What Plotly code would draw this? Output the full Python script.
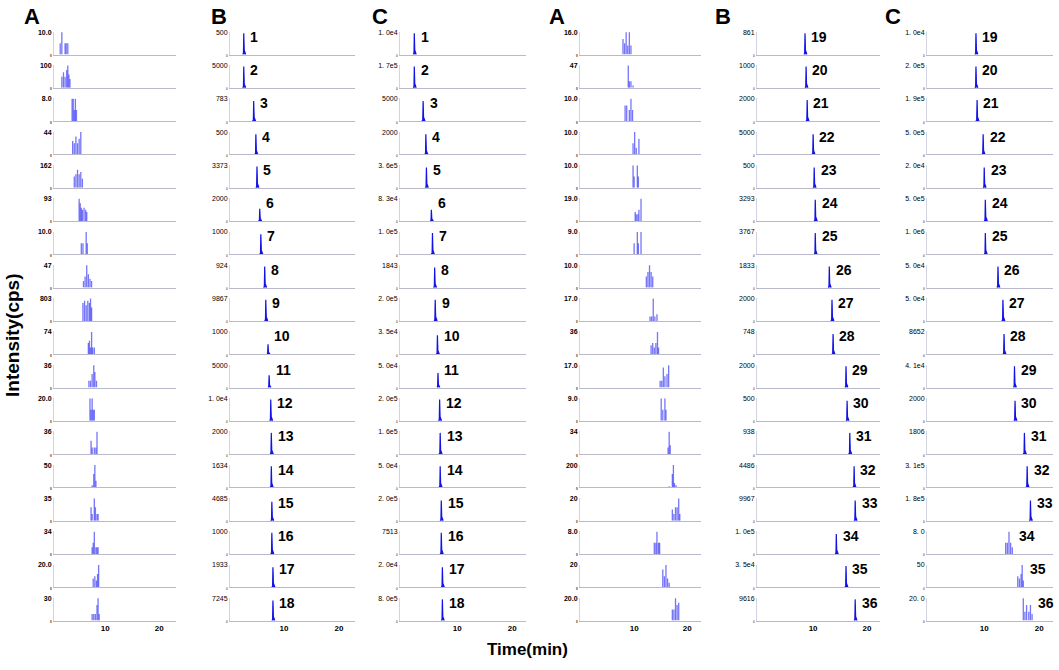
import plotly.graph_objects as go

W, H = 1059, 670

# ============ 数据 ============
# 每个小图左上角的强度标签 (A=空白, B=标准品, C=样品)
blank1_labels = ["10.0", "100", "8.0", "44", "162", "93", "10.0", "47", "803",
                 "74", "36", "20.0", "36", "50", "35", "34", "20.0", "30"]
std1_labels = ["500", "5000", "783", "500", "3373", "2000", "1000", "924", "9867",
               "1000", "5000", "1. 0e4", "2000", "1634", "4685", "1000", "1933", "7245"]
smp1_labels = ["1. 0e4", "1. 7e5", "5000", "2000", "3. 6e5", "8. 3e4", "1. 0e5", "1843", "2. 0e5",
               "3. 5e4", "5. 0e4", "2. 0e5", "1. 6e5", "5. 0e4", "2. 0e5", "7513", "2. 0e4", "8. 0e5"]
blank2_labels = ["16.0", "47", "10.0", "10.0", "10.0", "19.0", "9.0", "10.0", "17.0",
                 "36", "17.0", "9.0", "34", "200", "20", "8.0", "20", "20.0"]
std2_labels = ["861", "1000", "2000", "5000", "500", "3293", "3767", "1833", "2000",
               "748", "2000", "500", "938", "4486", "9967", "1. 0e5", "3. 5e4", "9616"]
smp2_labels = ["1. 0e4", "2. 0e5", "1. 9e5", "5. 0e5", "2. 0e4", "5. 0e5", "1. 0e6", "5. 0e4", "5. 0e4",
               "8652", "4. 1e4", "2000", "1806", "3. 1e5", "1. 8e5", "8. 0", "50", "20. 0"]

# 化合物编号
nums_left = list(range(1, 19))
nums_right = list(range(19, 37))

# 保留时间 (min) 与相对峰高
std1_rt = [2.7, 2.7, 4.5, 4.9, 5.1, 5.6, 5.8, 6.5, 6.7, 7.1, 7.3, 7.6, 7.7, 7.7, 7.8, 7.8, 8.0, 8.0]
std1_h = [0.95, 0.95, 0.9, 0.9, 0.95, 0.55, 0.9, 0.95, 0.95, 0.45, 0.55, 0.95, 0.95, 0.95, 0.85, 0.95, 0.9, 0.9]
smp1_rt = [2.2, 2.2, 3.8, 4.3, 4.4, 5.3, 5.5, 5.9, 6.0, 6.4, 6.5, 6.8, 6.9, 6.9, 7.1, 7.1, 7.3, 7.3]
smp1_h = [0.95, 0.95, 0.9, 0.9, 0.9, 0.5, 0.95, 0.9, 0.95, 0.85, 0.65, 0.95, 0.95, 0.95, 0.9, 0.95, 0.9, 0.95]
std2_rt = [8.5, 8.7, 8.9, 10.0, 10.2, 10.4, 10.4, 13.0, 13.5, 13.7, 16.1, 16.3, 16.8, 17.6, 17.8, 14.3, 16.1, 17.8]
std2_h = [0.95, 0.95, 0.95, 0.9, 0.9, 0.95, 0.95, 0.95, 0.95, 0.9, 0.95, 0.9, 0.95, 0.95, 0.9, 0.9, 0.95, 0.95]
smp2_rt = [8.5, 8.5, 8.7, 9.8, 10.0, 10.2, 10.2, 12.5, 13.4, 13.6, 15.5, 15.6, 17.3, 17.8, 18.4]
smp2_h = [0.95, 0.95, 0.95, 0.9, 0.9, 0.95, 0.95, 0.95, 0.95, 0.9, 0.95, 0.9, 0.95, 0.95, 0.9]

# 空白/噪声信号: 各尖峰位置 (min) 与相对高度
blank1_x = [
    [1.7, 2.0, 2.6, 2.8, 3.1],
    [2.0, 2.3, 2.6, 2.9, 3.1, 3.3, 3.5],
    [3.9, 4.1, 4.3, 4.5, 4.7],
    [4.0, 4.3, 4.6, 4.9, 5.2, 5.5],
    [4.3, 4.6, 4.9, 5.2, 5.5, 5.8],
    [5.2, 5.4, 5.6, 5.8, 6.1, 6.4, 6.6],
    [5.6, 5.9, 6.5, 6.7],
    [6.0, 6.3, 6.6, 6.9, 7.2, 7.5],
    [5.9, 6.2, 6.5, 6.8, 7.1, 7.3, 7.5],
    [6.9, 7.1, 7.3, 7.5, 7.7, 8.0],
    [7.0, 7.3, 7.6, 7.9, 8.1, 8.4],
    [7.2, 7.4, 7.6, 7.8, 8.0],
    [7.4, 7.6, 8.0, 8.3, 8.5],
    [7.6, 7.9, 8.1, 8.3],
    [7.4, 7.6, 8.0, 8.2, 8.5, 8.7],
    [7.6, 7.8, 8.0, 8.3, 8.5, 8.7],
    [7.8, 8.1, 8.4, 8.6, 8.8],
    [7.6, 7.9, 8.2, 8.5, 8.7, 8.9],
]
blank1_h = [
    [0.5, 1.0, 0.5, 0.5, 0.5],
    [0.5, 0.7, 0.5, 0.8, 1.0, 0.6, 0.4],
    [1.0, 1.0, 0.5, 1.0, 0.5],
    [0.6, 0.5, 0.8, 0.5, 0.7, 1.0],
    [0.5, 0.6, 0.8, 0.6, 0.7, 0.4],
    [1.0, 0.8, 0.6, 0.5, 0.6, 0.5, 0.4],
    [0.5, 0.5, 1.0, 0.5],
    [0.3, 0.5, 1.0, 0.6, 0.4, 0.3],
    [0.8, 0.9, 0.7, 0.9, 0.8, 1.0, 0.6],
    [0.5, 0.6, 0.3, 1.0, 0.3, 0.3],
    [0.3, 0.3, 0.6, 1.0, 0.7, 0.3],
    [1.0, 0.5, 1.0, 0.5, 0.5],
    [0.6, 0.3, 0.3, 0.3, 1.0],
    [0.1, 0.6, 1.0, 0.3],
    [0.6, 0.3, 1.0, 0.6, 0.3, 0.3],
    [0.3, 0.5, 1.0, 0.3, 0.3, 0.3],
    [0.4, 0.5, 0.3, 0.6, 1.0],
    [0.3, 0.3, 0.3, 0.7, 1.0, 0.3],
]
blank2_x = [
    [7.9, 8.2, 8.5, 8.8, 9.1, 9.4],
    [8.9, 9.1, 9.4, 9.8],
    [8.3, 8.6, 9.1, 9.4, 9.7],
    [9.8, 10.1, 10.4, 10.9],
    [9.8, 10.0, 10.6, 10.8],
    [10.2, 10.4, 10.7, 10.9, 11.3],
    [10.0, 10.6, 10.8, 11.3],
    [12.3, 12.6, 12.9, 13.2, 13.5],
    [13.0, 13.3, 13.6, 13.9, 14.3],
    [13.2, 13.5, 13.8, 14.1, 14.4, 14.6],
    [14.9, 15.2, 15.5, 15.8, 16.2, 16.5],
    [15.1, 15.4, 15.8, 16.0],
    [16.4, 16.6, 16.8],
    [16.6, 17.2, 17.4, 17.6, 17.9],
    [17.2, 17.5, 17.8, 18.1, 18.4, 18.6],
    [13.8, 14.1, 14.3, 14.6, 14.8],
    [15.4, 15.7, 16.0, 16.3, 16.6],
    [17.2, 17.5, 17.8, 18.1, 18.4],
]
blank2_h = [
    [0.7, 0.5, 1.0, 0.4, 1.0, 0.4],
    [1.0, 0.3, 0.3, 0.1],
    [0.7, 0.7, 0.5, 1.0, 0.5],
    [0.5, 1.0, 0.3, 0.7],
    [1.0, 0.5, 1.0, 0.5],
    [0.4, 0.3, 0.3, 0.5, 1.0],
    [0.5, 1.0, 0.5, 1.0],
    [0.5, 0.7, 1.0, 0.7, 0.5],
    [0.2, 0.2, 1.0, 0.2, 0.3],
    [0.4, 0.5, 0.3, 0.5, 1.0, 0.3],
    [0.3, 0.3, 0.9, 0.5, 0.6, 1.0],
    [1.0, 0.5, 1.0, 0.5],
    [0.3, 1.0, 0.4],
    [0.05, 0.6, 1.0, 0.2, 0.1],
    [0.5, 0.3, 0.6, 0.6, 1.0, 0.3],
    [0.5, 0.5, 1.0, 0.5, 0.5],
    [0.8, 0.5, 1.0, 0.4, 0.2],
    [0.5, 0.5, 1.0, 0.7, 0.8],
]
# 样品中 34-36 号只见噪声
smp2_noise_x = [
    [13.9, 14.2, 14.5, 14.8, 15.1],
    [16.1, 16.4, 16.7, 16.9, 17.1],
    [17.1, 17.4, 17.7, 18.1, 18.4, 18.7],
]
smp2_noise_h = [
    [0.5, 0.5, 1.0, 0.5, 0.3],
    [0.5, 0.4, 0.6, 1.0, 0.3],
    [1.0, 0.4, 0.7, 0.4, 0.7, 0.3],
]

# ============ 布局参数 ============
col_px = [(54, 176), (230, 355), (400, 526), (580, 701), (757, 880), (927, 1053)]
col_range = [(0.55, 23.1), (0.2, 22.9), (-0.4, 22.5), (-0.2, 22.6), (-0.4, 22.4), (-0.4, 22.5)]
header_x = [32, 219, 380, 557, 723, 893]
headers = ["A", "B", "C", "A", "B", "C"]
N_ROWS = 18
ROW0, ROW_STEP, PANEL_H = 52, 33.6, 23

PEAK_C = "#1212e6"
SPIKE_C = "rgba(25,25,245,0.6)"
AXIS_C = "#b9b9c9"


def peak_xy(rt, h):
    return [rt - 0.2, rt - 0.06, rt, rt + 0.08, rt + 0.35], [0, 0.06 * h, h, 0.2 * h, 0]


def spike_xy(xs, hs):
    X, Y = [], []
    for x, h in zip(xs, hs):
        X += [x, x, None]
        Y += [0, h, None]
    return X, Y


fig = go.Figure()
annotations = []
layout = {}

labels_by_col = [blank1_labels, std1_labels, smp1_labels, blank2_labels, std2_labels, smp2_labels]

k = 0
for c in range(6):
    x0, x1 = col_px[c]
    for r in range(N_ROWS):
        k += 1
        sfx = "" if k == 1 else str(k)
        base = ROW0 + ROW_STEP * r
        top = base - PANEL_H
        xa, ya = "x" + sfx, "y" + sfx

        # 绘制信号
        if c in (0, 3):
            xs = blank1_x[r] if c == 0 else blank2_x[r]
            hs = blank1_h[r] if c == 0 else blank2_h[r]
            X, Y = spike_xy(xs, hs)
            fig.add_trace(go.Scatter(x=X, y=Y, mode="lines", line=dict(color=SPIKE_C, width=1.3),
                                     xaxis=xa, yaxis=ya, hoverinfo="skip"))
        else:
            if c == 1:
                rt, h, num = std1_rt[r], std1_h[r], nums_left[r]
            elif c == 2:
                rt, h, num = smp1_rt[r], smp1_h[r], nums_left[r]
            elif c == 4:
                rt, h, num = std2_rt[r], std2_h[r], nums_right[r]
            else:
                num = nums_right[r]
                rt = smp2_rt[r] if r < len(smp2_rt) else None
                h = smp2_h[r] if r < len(smp2_h) else None
            if rt is not None:
                X, Y = peak_xy(rt, h)
                fig.add_trace(go.Scatter(x=X, y=Y, mode="lines", fill="tozeroy", fillcolor=PEAK_C,
                                         line=dict(color=PEAK_C, width=1.2),
                                         xaxis=xa, yaxis=ya, hoverinfo="skip"))
                lx = rt + 0.8
            else:
                j = r - len(smp2_rt)
                X, Y = spike_xy(smp2_noise_x[j], smp2_noise_h[j])
                fig.add_trace(go.Scatter(x=X, y=Y, mode="lines", line=dict(color=SPIKE_C, width=1.3),
                                         xaxis=xa, yaxis=ya, hoverinfo="skip"))
                lx = max(smp2_noise_x[j]) + 0.8
            annotations.append(dict(x=lx, y=0.8, xref=xa, yref=ya, text=str(num), showarrow=False,
                                    xanchor="left", yanchor="middle",
                                    font=dict(family="Arial", size=14, color="black", weight="bold")))

        bottom = r == N_ROWS - 1
        layout["xaxis" + sfx] = dict(
            domain=[x0 / W, x1 / W], range=list(col_range[c]), anchor=ya,
            showline=True, linecolor=AXIS_C, linewidth=1, showgrid=False, zeroline=False,
            ticks="", tickvals=[10, 20], showticklabels=bottom,
            tickfont=dict(family="Arial", size=8, color="black", weight="bold"), fixedrange=True)
        layout["yaxis" + sfx] = dict(
            domain=[1 - base / H, 1 - top / H], range=[0, 1.02], anchor=xa,
            showline=True, linecolor="#d4d4e0", linewidth=1, showgrid=False, zeroline=False,
            ticks="", tickvals=[0, 1.0],
            ticktext=["<span style='font-size:3px'>0</span>", labels_by_col[c][r]],
            tickfont=dict(family="Arial", size=7, color="black",
                          weight="bold" if c in (0, 3) else "normal"),
            fixedrange=True)

# 列标题
for hx, ht in zip(header_x, headers):
    annotations.append(dict(x=hx / W, y=1 - 14 / H, xref="paper", yref="paper", text=ht, showarrow=False,
                            xanchor="center", yanchor="middle",
                            font=dict(family="Arial", size=22, color="black", weight="bold")))

annotations.append(dict(x=12 / W, y=1 - 335 / H, xref="paper", yref="paper", text="Intensity(cps)",
                        showarrow=False, textangle=-90, xanchor="center", yanchor="middle",
                        font=dict(family="Arial", size=19, color="black", weight="bold")))
annotations.append(dict(x=527 / W, y=1 - 652 / H, xref="paper", yref="paper", text="Time(min)",
                        showarrow=False, xanchor="center", yanchor="middle",
                        font=dict(family="Arial", size=17, color="black", weight="bold")))

fig.update_layout(
    width=W, height=H, margin=dict(l=0, r=0, t=0, b=0),
    paper_bgcolor="white", plot_bgcolor="white",
    showlegend=False, annotations=annotations, **layout,
)

# 去掉页面默认边距, 让图贴齐窗口
fig.write_html("out.html", config={"displayModeBar": False},
               post_script="document.body.style.margin='0';document.body.style.overflow='hidden';")
